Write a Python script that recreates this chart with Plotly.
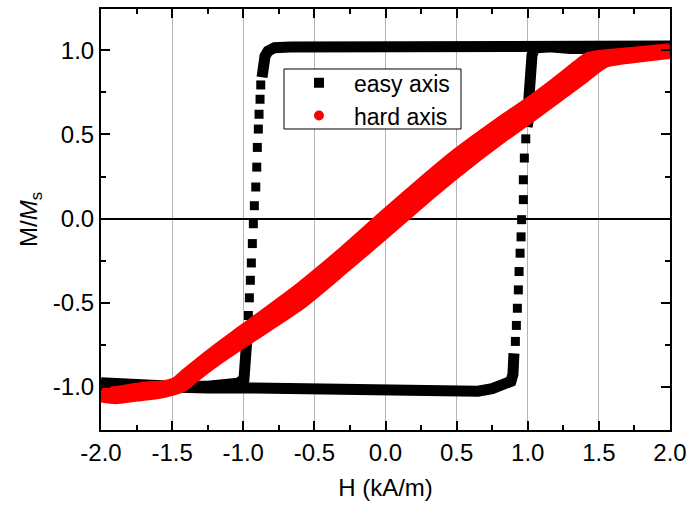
import plotly.graph_objects as go

# ---------------- data ----------------
# Easy axis, descending branch (H from +2 to -2)
easy_down_top_H = [2.0, 1.75, 1.5, 1.25, 1.0, 0.75, 0.5, 0.25, 0.0, -0.25, -0.5, -0.67, -0.78, -0.826, -0.847, -0.861, -0.868]
easy_down_top_M = [1.025, 1.025, 1.025, 1.03, 1.03, 1.035, 1.035, 1.035, 1.03, 1.025, 1.02, 1.02, 1.015, 0.995, 0.965, 0.915, 0.84]
easy_down_steps_H = [-0.877, -0.882, -0.889, -0.894, -0.901, -0.905, -0.912, -0.922, -0.929, -0.936, -0.943, -0.950, -0.957, -0.964]
easy_down_steps_M = [0.794, 0.709, 0.620, 0.532, 0.423, 0.306, 0.188, 0.077, -0.030, -0.148, -0.263, -0.366, -0.470, -0.575]
easy_down_bottom_H = [-0.970, -0.974, -0.977, -0.981, -0.995, -1.037, -1.13, -1.25, -1.5, -1.75, -1.9, -2.0]
easy_down_bottom_M = [-0.66, -0.747, -0.836, -0.907, -0.954, -0.978, -0.99, -0.995, -0.995, -0.99, -0.985, -0.975]

# Easy axis, ascending branch (H from -2 to +2)
easy_up_bottom_H = [-2.0, -1.75, -1.5, -1.25, -1.0, -0.75, -0.5, -0.25, 0.0, 0.25, 0.5, 0.65, 0.75, 0.84, 0.882, 0.896, 0.900, 0.903]
easy_up_bottom_M = [-0.99, -1.0, -1.005, -1.005, -1.005, -1.01, -1.015, -1.02, -1.02, -1.025, -1.03, -1.025, -1.01, -0.985, -0.966, -0.924, -0.865, -0.80]
easy_up_steps_H = [0.913, 0.920, 0.927, 0.934, 0.939, 0.946, 0.953, 0.957, 0.969, 0.969, 0.976, 0.986]
easy_up_steps_M = [-0.729, -0.634, -0.532, -0.423, -0.314, -0.205, -0.108, -0.006, 0.113, 0.231, 0.360, 0.474]
easy_up_top_H = [0.995, 1.004, 1.009, 1.016, 1.023, 1.03, 1.051, 1.15, 1.3, 1.5, 1.75, 2.0]
easy_up_top_M = [0.545, 0.587, 0.725, 0.824, 0.903, 0.972, 1.015, 1.02, 1.01, 1.005, 1.01, 1.02]

# Hard axis, descending branch (upper-left)
hard_down_H = [2.0, 1.75, 1.5, 1.42, 1.35, 1.2, 1.0, 0.8, 0.5, 0.3, 0.0, -0.3, -0.6, -1.0, -1.2, -1.4, -1.47, -1.55, -1.7, -1.85, -1.95, -2.0]
hard_down_M = [1.0, 0.98, 0.96, 0.945, 0.9, 0.8, 0.675, 0.56, 0.375, 0.235, 0.015, -0.21, -0.42, -0.67, -0.795, -0.93, -0.98, -1.0, -1.01, -1.03, -1.04, -1.03]
# Hard axis, ascending branch (lower-right)
hard_up_H = [-2.0, -1.9, -1.75, -1.6, -1.5, -1.43, -1.35, -1.2, -1.0, -0.6, -0.3, 0.0, 0.3, 0.5, 0.8, 1.0, 1.2, 1.4, 1.5, 1.55, 1.65, 1.75, 1.9, 2.0]
hard_up_M = [-1.05, -1.06, -1.045, -1.03, -1.01, -0.99, -0.935, -0.84, -0.725, -0.5, -0.29, -0.075, 0.145, 0.285, 0.48, 0.6, 0.725, 0.85, 0.915, 0.94, 0.955, 0.965, 0.98, 0.99]

x_ticks = [-2.0, -1.5, -1.0, -0.5, 0.0, 0.5, 1.0, 1.5, 2.0]
y_ticks = [-1.0, -0.5, 0.0, 0.5, 1.0]

# ---------------- figure ----------------
FONT = "Liberation Sans, Arial, sans-serif"
FS = 24
BLACK = "#000000"
RED = "#ff0000"
fig = go.Figure()

band_w = 11
for hx, my in [(easy_down_top_H, easy_down_top_M), (easy_down_bottom_H, easy_down_bottom_M),
               (easy_up_bottom_H, easy_up_bottom_M), (easy_up_top_H, easy_up_top_M)]:
    fig.add_trace(go.Scatter(x=hx, y=my, mode="lines", line=dict(color=BLACK, width=band_w),
                             showlegend=False, hoverinfo="skip"))
for hx, my in [(easy_down_steps_H, easy_down_steps_M), (easy_up_steps_H, easy_up_steps_M)]:
    fig.add_trace(go.Scatter(x=hx, y=my, mode="markers",
                             marker=dict(symbol="square", color=BLACK, size=9, line=dict(width=0)),
                             showlegend=False))

for hx, my in [(hard_down_H, hard_down_M), (hard_up_H, hard_up_M)]:
    fig.add_trace(go.Scatter(x=hx, y=my, mode="lines",
                             line=dict(color=RED, width=14, shape="spline", smoothing=0.6),
                             showlegend=False, hoverinfo="skip"))

# legend entries
fig.add_trace(go.Scatter(x=[None], y=[None], mode="markers", name="easy axis",
                         marker=dict(symbol="square", color=BLACK, size=10)))
fig.add_trace(go.Scatter(x=[None], y=[None], mode="markers", name="hard axis",
                         marker=dict(symbol="circle", color=RED, size=10)))

axis_common = dict(
    showline=True, linecolor=BLACK, linewidth=2, mirror="ticks",
    ticks="inside", ticklen=9, tickwidth=2, tickcolor=BLACK,
    tickfont=dict(family=FONT, size=FS, color=BLACK),
)

fig.update_xaxes(
    range=[-2.0, 2.0], tickvals=x_ticks, ticktext=[f"{v:.1f}" for v in x_ticks],
    showgrid=True, gridcolor="#b4b4b4", gridwidth=1, zeroline=False,
    minor=dict(dtick=0.25, ticks="inside", ticklen=5, tickwidth=2, tickcolor=BLACK, showgrid=False),
    title=dict(text="H (kA/m)", font=dict(family=FONT, size=FS, color=BLACK), standoff=14),
    **axis_common,
)
fig.update_yaxes(
    range=[-1.255, 1.245], tickvals=y_ticks, ticktext=[f"{v:.1f}" for v in y_ticks],
    showgrid=False, zeroline=True, zerolinecolor=BLACK, zerolinewidth=2,
    minor=dict(dtick=0.25, tick0=0, ticks="inside", ticklen=5, tickwidth=2, tickcolor=BLACK, showgrid=False),
    title=dict(text="M/<i>M</i><sub>s</sub>", font=dict(family=FONT, size=FS, color=BLACK), standoff=8),
    **axis_common,
)

# legend frame (white box with black border)
fig.add_shape(type="rect", xref="paper", yref="paper",
              x0=0.3216, x1=0.6327, y0=0.715, y1=0.8575,
              fillcolor="white", line=dict(color=BLACK, width=1), layer="above")

fig.update_layout(
    width=689, height=507,
    margin=dict(l=101, r=19, t=9, b=77, autoexpand=False),
    plot_bgcolor="white", paper_bgcolor="white",
    font=dict(family=FONT, size=FS, color=BLACK),
    legend=dict(x=0.3216, y=0.876, xanchor="left", yanchor="top",
                bgcolor="rgba(0,0,0,0)", borderwidth=0,
                font=dict(family=FONT, size=23, color=BLACK),
                itemwidth=60, tracegroupgap=0),
    showlegend=True,
)

fig.write_html("out.html")
